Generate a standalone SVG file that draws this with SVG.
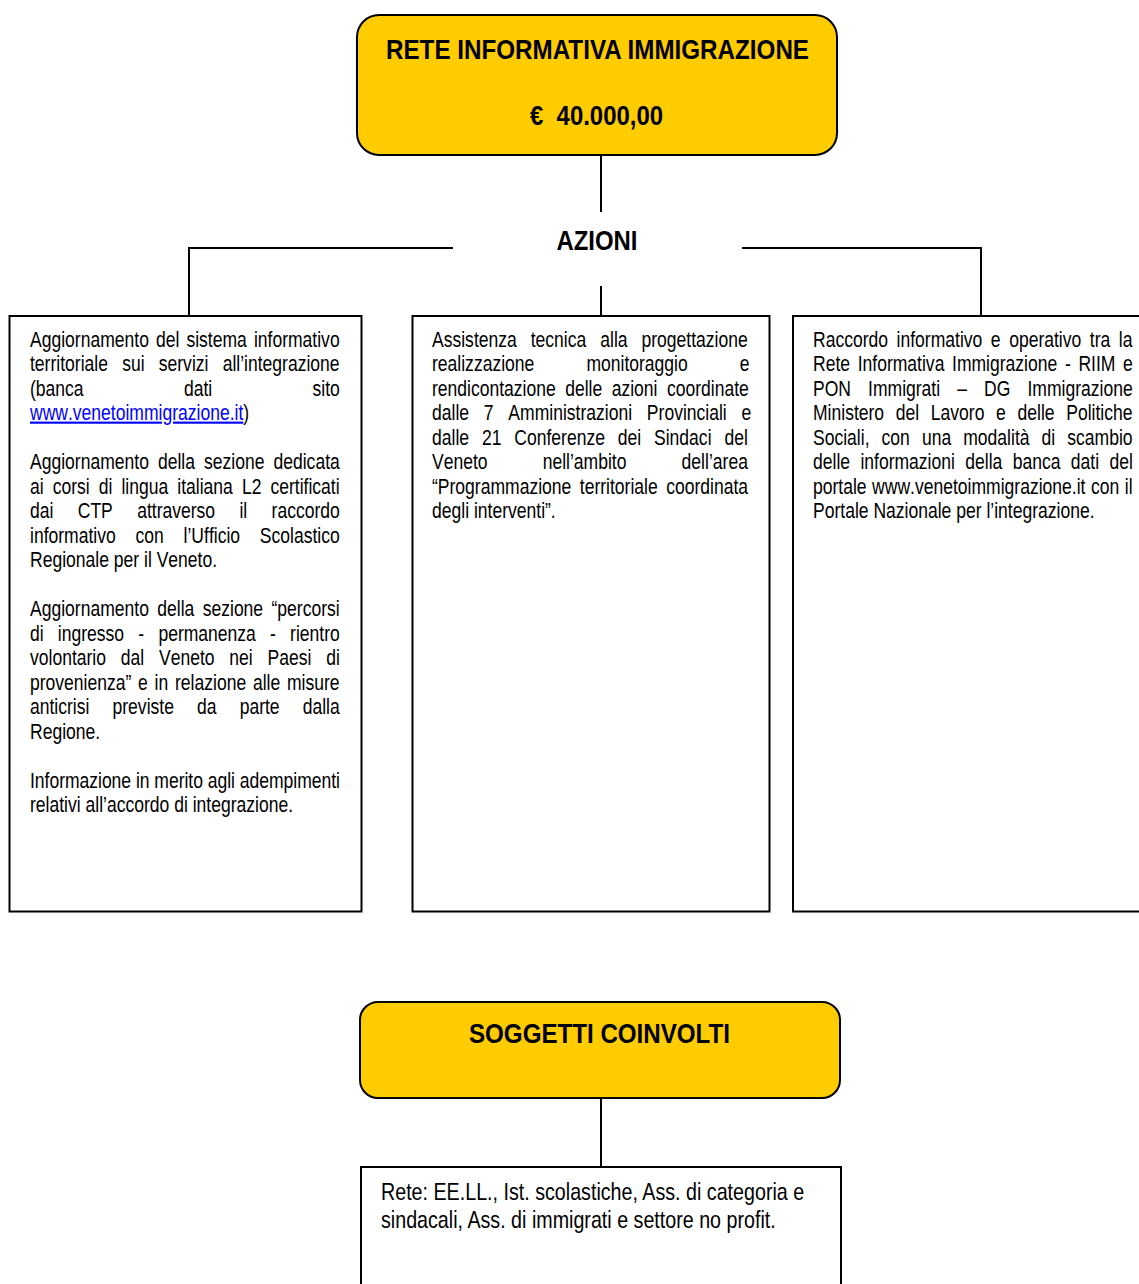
<svg xmlns="http://www.w3.org/2000/svg" width="1139" height="1284" viewBox="0 0 1139 1284">
  <style>
    .box { fill: #ffffff; stroke: #000000; stroke-width: 2; }
    .head { fill: #ffcc00; stroke: #000000; stroke-width: 2; }
    .wire { fill: none; stroke: #000000; stroke-width: 2; }
    .title { font-family: "Liberation Sans", Arial, sans-serif; font-weight: bold; font-size: 28px; fill: #000000; }
    .body { font-family: "Liberation Sans", Arial, sans-serif; font-size: 21.4px; fill: #000000; font-kerning: none; }
    .big { font-family: "Liberation Sans", Arial, sans-serif; font-size: 24px; fill: #000000; }
    .link { fill: #0000ff; text-decoration: underline; }
  </style>

  <!-- connectors -->
  <g id="connectors">
    <line class="wire" x1="601" y1="155" x2="601" y2="212"/>
    <polyline class="wire" points="453,248 189,248 189,316"/>
    <polyline class="wire" points="742,248 981,248 981,316"/>
    <line class="wire" x1="601" y1="286" x2="601" y2="316"/>
    <line class="wire" x1="601" y1="1098" x2="601" y2="1167"/>
  </g>

  <!-- main heading -->
  <g id="rete-informativa">
    <rect class="head" x="357" y="15" width="480" height="140" rx="22" ry="22"/>
    <text class="title" x="597.5" y="59" text-anchor="middle" textLength="423" lengthAdjust="spacingAndGlyphs">RETE INFORMATIVA IMMIGRAZIONE</text>
    <text class="title" x="596.5" y="125" text-anchor="middle" textLength="133" lengthAdjust="spacingAndGlyphs">€&#160; 40.000,00</text>
  </g>

  <!-- section label -->
  <g id="azioni">
    <text class="title" x="597" y="250" text-anchor="middle" textLength="81" lengthAdjust="spacingAndGlyphs">AZIONI</text>
  </g>

  <!-- action 1: narrow type = regular face squeezed to 82 %, justified with word-spacing -->
  <g id="azione-sistema-informativo">
    <rect class="box" x="9.5" y="316" width="352" height="595.5"/>
    <g class="body" transform="translate(30 0) scale(0.82 1)">
      <text x="0" y="347" word-spacing="2.7">Aggiornamento del sistema informativo</text>
      <text x="0" y="371.5" word-spacing="11.4">territoriale sui servizi all’integrazione</text>
      <text x="0" y="396" word-spacing="116.4">(banca dati sito</text>
      <text x="0" y="420.5"><tspan class="link">www.venetoimmigrazione.it</tspan>)</text>

      <text x="0" y="469.5" word-spacing="5.1">Aggiornamento della sezione dedicata</text>
      <text x="0" y="494" word-spacing="5.1">ai corsi di lingua italiana L2 certificati</text>
      <text x="0" y="518.5" word-spacing="23.75">dai CTP attraverso il raccordo</text>
      <text x="0" y="543" word-spacing="18.2">informativo con l’Ufficio Scolastico</text>
      <text x="0" y="567.5">Regionale per il Veneto.</text>

      <text x="0" y="616.5" word-spacing="4.3">Aggiornamento della sezione “percorsi</text>
      <text x="0" y="641" word-spacing="11.4">di ingresso - permanenza - rientro</text>
      <text x="0" y="665.5" word-spacing="12.1">volontario dal Veneto nei Paesi di</text>
      <text x="0" y="690" word-spacing="2.3">provenienza” e in relazione alle misure</text>
      <text x="0" y="714.5" word-spacing="22.25">anticrisi previste da parte dalla</text>
      <text x="0" y="739">Regione.</text>

      <text x="0" y="788" textLength="378" lengthAdjust="spacing">Informazione in merito agli adempimenti</text>
      <text x="0" y="812.5">relativi all’accordo di integrazione.</text>
    </g>
  </g>

  <!-- action 2 -->
  <g id="azione-assistenza-tecnica">
    <rect class="box" x="412.5" y="316" width="357" height="595.5"/>
    <g class="body" transform="translate(432 0) scale(0.82 1)">
      <text x="0" y="347" word-spacing="11.1">Assistenza tecnica alla progettazione</text>
      <text x="0" y="371.5" word-spacing="57.6">realizzazione monitoraggio e</text>
      <text x="0" y="396" word-spacing="5.6">rendicontazione delle azioni coordinate</text>
      <text x="0" y="420.5" word-spacing="12.1">dalle 7 Amministrazioni Provinciali e</text>
      <text x="0" y="445" word-spacing="9.76">dalle 21 Conferenze dei Sindaci del</text>
      <text x="0" y="469.5" word-spacing="61.3">Veneto nell’ambito dell’area</text>
      <text x="0" y="494" word-spacing="4.4">“Programmazione territoriale coordinata</text>
      <text x="0" y="518.5">degli interventi”.</text>
    </g>
  </g>

  <!-- action 3 -->
  <g id="azione-raccordo">
    <rect class="box" x="793" y="316" width="360" height="595.5"/>
    <g class="body" transform="translate(813 0) scale(0.82 1)">
      <text x="0" y="347" word-spacing="4.5">Raccordo informativo e operativo tra la</text>
      <text x="0" y="371.5" word-spacing="3.4">Rete Informativa Immigrazione - RIIM e</text>
      <text x="0" y="396" word-spacing="14.9">PON Immigrati – DG Immigrazione</text>
      <text x="0" y="420.5" word-spacing="8.3">Ministero del Lavoro e delle Politiche</text>
      <text x="0" y="445" word-spacing="8.8">Sociali, con una modalità di scambio</text>
      <text x="0" y="469.5" word-spacing="6.7">delle informazioni della banca dati del</text>
      <text x="0" y="494" word-spacing="0.8">portale www.venetoimmigrazione.it con il</text>
      <text x="0" y="518.5">Portale Nazionale per l’integrazione.</text>
    </g>
  </g>

  <!-- involved parties -->
  <g id="soggetti-coinvolti">
    <rect class="head" x="360" y="1002" width="480" height="96" rx="18" ry="18"/>
    <text class="title" x="599.5" y="1043" text-anchor="middle" textLength="261" lengthAdjust="spacingAndGlyphs">SOGGETTI COINVOLTI</text>
  </g>

  <g id="rete-soggetti">
    <rect class="box" x="361" y="1167" width="480" height="130"/>
    <g class="big" transform="translate(381 0) scale(0.82 1)">
      <text x="0" y="1200.5">Rete: EE.LL., Ist. scolastiche, Ass. di categoria e</text>
      <text x="0" y="1228">sindacali, Ass. di immigrati e settore no profit.</text>
    </g>
  </g>
</svg>
